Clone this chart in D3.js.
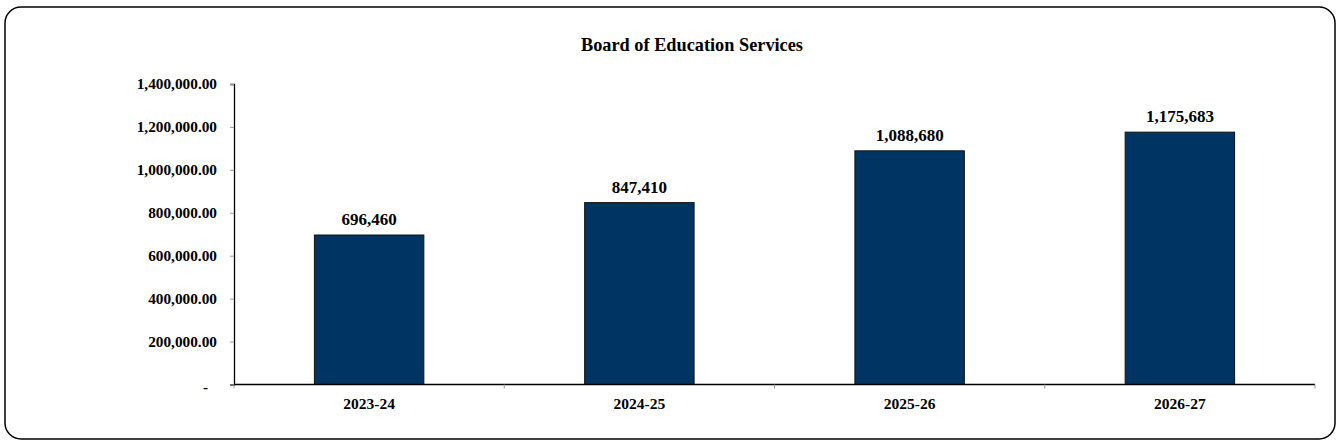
<!DOCTYPE html>
<html>
<head>
<meta charset="utf-8">
<script src="https://cdn.jsdelivr.net/npm/d3@7"></script>
<style>
body { margin: 0; background: #fff; }
text { font-family: "Liberation Serif", "Times New Roman", serif; font-weight: bold; fill: #000; }
</style>
</head>
<body>
<script>
var years = ["2023-24", "2024-25", "2025-26", "2026-27"];
var amounts = [696460, 847410, 1088680, 1175683];
var yTicks = [0, 200000, 400000, 600000, 800000, 1000000, 1200000, 1400000];

var W = 1338, H = 446;
var plotLeft = 234, plotRight = 1315, plotTop = 84, plotBottom = 384.5;

var svg = d3.select("body")
	.append("svg")
	.attr("width", W)
	.attr("height", H);

// outer frame
svg.append("rect")
	.attr("x", 5).attr("y", 7)
	.attr("width", 1330).attr("height", 432)
	.attr("rx", 16).attr("ry", 16)
	.attr("fill", "#fff")
	.attr("stroke", "#000")
	.attr("stroke-width", 1.5);

svg.append("text")
	.attr("x", 692)
	.attr("y", 51)
	.attr("text-anchor", "middle")
	.attr("font-size", "18.3px")
	.text("Board of Education Services");

var x = d3.scaleBand().domain(years).range([plotLeft, plotRight]).paddingInner(0).paddingOuter(0);
var y = d3.scaleLinear().domain([0, 1400000]).range([plotBottom, plotTop]);

var fmtAxis = function (d) { return d === 0 ? "-" : d3.format(",.2f")(d); };

// y axis
var yAxis = svg.append("g")
	.attr("transform", "translate(" + plotLeft + ",0)")
	.call(d3.axisLeft(y).tickValues(yTicks).tickSize(4).tickPadding(13).tickFormat(fmtAxis));
yAxis.select(".domain").attr("stroke", "#000").attr("stroke-width", 1.3);
yAxis.selectAll(".tick line").attr("stroke", "#999");
yAxis.selectAll(".tick text").attr("font-size", "15.3px").attr("font-family", null);
// the dash for zero sits a bit left, like accounting format
yAxis.selectAll(".tick text").filter(function (d) { return d === 0; })
	.attr("dx", -9).attr("dy", "0.45em");

// bars
var bw = x.bandwidth() * 0.405;
svg.selectAll("rect.bar")
	.data(amounts)
	.enter()
	.append("rect")
	.attr("class", "bar")
	.attr("x", function (d, i) { return x(years[i]) + (x.bandwidth() - bw) / 2; })
	.attr("y", function (d) { return y(d); })
	.attr("width", bw)
	.attr("height", function (d) { return y(0) - y(d); })
	.attr("fill", "#003462")
	.attr("stroke", "#111")
	.attr("stroke-width", 1);

// value labels
svg.selectAll("text.val")
	.data(amounts)
	.enter()
	.append("text")
	.attr("class", "val")
	.attr("x", function (d, i) { return x(years[i]) + x.bandwidth() / 2; })
	.attr("y", function (d) { return y(d) - 10; })
	.attr("text-anchor", "middle")
	.attr("font-size", "17px")
	.text(function (d) { return d3.format(",")(d); });

// x axis
var xg = svg.append("g").attr("transform", "translate(0," + plotBottom + ")");
xg.append("line")
	.attr("x1", plotLeft).attr("x2", plotRight)
	.attr("stroke", "#000").attr("stroke-width", 1.3);
var bounds = years.map(function (c) { return x(c); }).concat([plotRight]);
xg.selectAll("line.tk")
	.data(bounds)
	.enter()
	.append("line")
	.attr("class", "tk")
	.attr("x1", function (d) { return d; }).attr("x2", function (d) { return d; })
	.attr("y1", 0).attr("y2", 4)
	.attr("stroke", "#999");
xg.selectAll("text")
	.data(years)
	.enter()
	.append("text")
	.attr("x", function (d) { return x(d) + x.bandwidth() / 2; })
	.attr("y", 24)
	.attr("text-anchor", "middle")
	.attr("font-size", "15.5px")
	.text(function (d) { return d; });
</script>
</body>
</html>
